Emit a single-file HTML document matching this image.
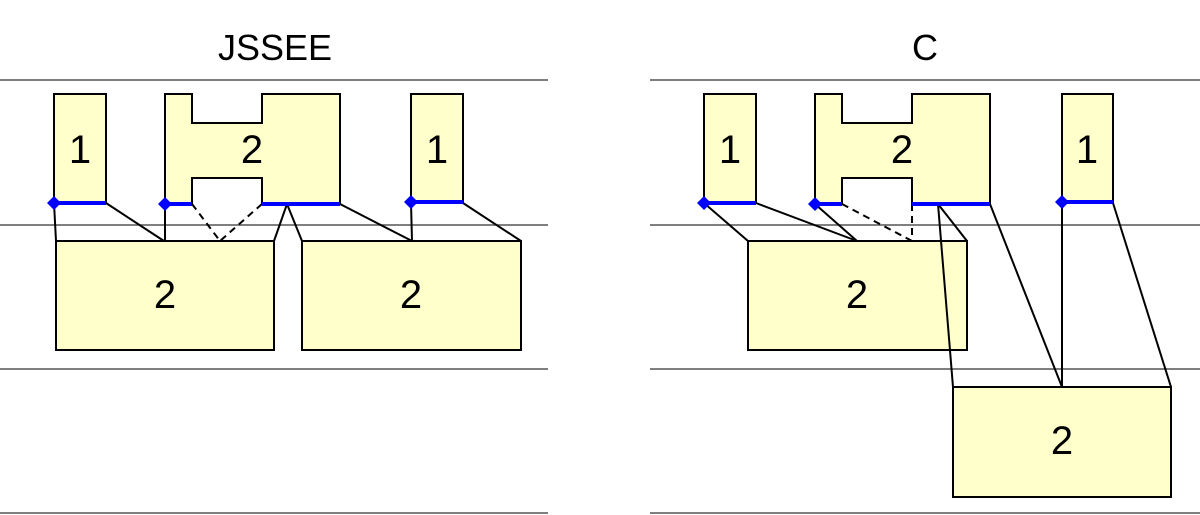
<!DOCTYPE html>
<html><head><style>html,body{margin:0;padding:0;background:#fff;}svg{display:block}</style></head>
<body>
<svg width="1200" height="515" xmlns="http://www.w3.org/2000/svg" font-family="Liberation Sans, sans-serif">
<g stroke="#555" stroke-width="1.5">
<line x1="0" y1="80" x2="548" y2="80"/><line x1="0" y1="225" x2="548" y2="225"/><line x1="0" y1="369" x2="548" y2="369"/><line x1="0" y1="513" x2="548" y2="513"/>
<line x1="650" y1="80" x2="1200" y2="80"/><line x1="650" y1="225" x2="1200" y2="225"/><line x1="650" y1="369" x2="1200" y2="369"/><line x1="650" y1="513" x2="1200" y2="513"/>
</g>
<text x="275" y="60" font-size="36" text-anchor="middle">JSSEE</text>
<text x="925" y="60" font-size="36" text-anchor="middle">C</text>
<g fill="#ffffcc" stroke="#000" stroke-width="2">
<!-- left -->
<rect x="54" y="94" width="52" height="109"/>
<path d="M165 94 H192 V123 H262 V94 H340 V204 H262 V178 H192 V204 H165 Z"/>
<rect x="411" y="94" width="52" height="109"/>
<rect x="56" y="241" width="218" height="109"/>
<rect x="302" y="241" width="219" height="109"/>
<!-- right -->
<rect x="704" y="94" width="52" height="109"/>
<path d="M815 94 H842 V123 H912 V94 H990 V204 H912 V178 H842 V204 H815 Z"/>
<rect x="1062" y="94" width="51" height="109"/>
<rect x="748" y="241" width="219" height="109"/>
<rect x="953" y="387" width="218" height="110"/>
</g>
<g stroke="#000" stroke-width="2" fill="none">
<line x1="54" y1="203" x2="56" y2="241"/><line x1="106" y1="203" x2="164" y2="241"/><line x1="165" y1="204" x2="165" y2="241"/>
<line x1="287" y1="204" x2="274" y2="241"/><line x1="287" y1="204" x2="302" y2="241"/>
<line x1="340" y1="204" x2="412" y2="241"/><line x1="411" y1="203" x2="412" y2="241"/><line x1="463" y1="203" x2="521" y2="241"/>
<line x1="704" y1="203" x2="748" y2="241"/><line x1="756" y1="203" x2="857" y2="241"/><line x1="815" y1="204" x2="857" y2="241"/>
<line x1="938" y1="204" x2="967" y2="241"/><line x1="938" y1="204" x2="953" y2="387"/>
<line x1="990" y1="204" x2="1062" y2="387"/><line x1="1062" y1="203" x2="1062" y2="387"/><line x1="1113" y1="203" x2="1171" y2="387"/>
<g stroke-dasharray="7,5">
<line x1="192" y1="204" x2="220" y2="241"/><line x1="262" y1="204" x2="220" y2="241"/>
<line x1="842" y1="204" x2="912" y2="241"/><line x1="912" y1="204" x2="912" y2="241"/>
</g>
</g>
<g stroke="#0000ff" stroke-width="4">
<line x1="54" y1="203" x2="106" y2="203"/><line x1="165" y1="204" x2="192" y2="204"/><line x1="262" y1="204" x2="340" y2="204"/><line x1="411" y1="202" x2="463" y2="202"/>
<line x1="704" y1="203" x2="756" y2="203"/><line x1="815" y1="204" x2="842" y2="204"/><line x1="912" y1="204" x2="990" y2="204"/><line x1="1062" y1="202" x2="1113" y2="202"/>
</g>
<g fill="#0000ff">
<path d="M54 196 L61 203 L54 210 L47 203 Z"/><path d="M165 197 L172 204 L165 211 L158 204 Z"/><path d="M411 195 L418 202 L411 209 L404 202 Z"/>
<path d="M704 196 L711 203 L704 210 L697 203 Z"/><path d="M815 197 L822 204 L815 211 L808 204 Z"/><path d="M1062 195 L1069 202 L1062 209 L1055 202 Z"/>
</g>
<g font-size="40" text-anchor="middle" fill="#000">
<text x="80" y="163">1</text><text x="252" y="163">2</text><text x="437" y="163">1</text>
<text x="165" y="308">2</text><text x="411" y="308">2</text>
<text x="730" y="163">1</text><text x="902" y="163">2</text><text x="1087" y="163">1</text>
<text x="857" y="308">2</text><text x="1062" y="454">2</text>
</g>
</svg>
</body></html>
